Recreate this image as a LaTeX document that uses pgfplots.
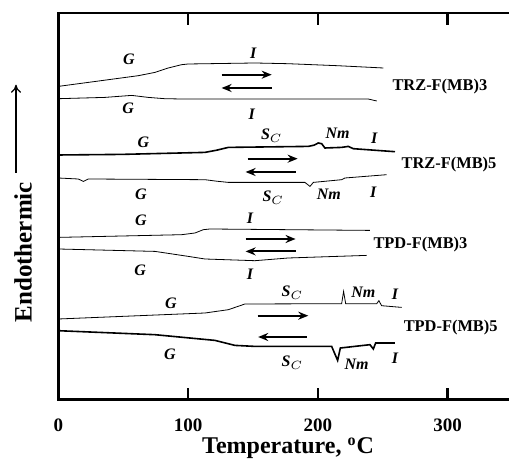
\documentclass[border=0pt]{standalone}
\usepackage{fontspec}
\setmainfont{Liberation Serif}
\usepackage{pgfplots}
\pgfplotsset{compat=1.18}
\usetikzlibrary{arrows.meta}

\newcommand{\ph}[1]{\bfseries\itshape\fontsize{8}{9}\selectfont #1}
\newcommand{\smp}{\bfseries\fontsize{8.2}{9}\selectfont}

\begin{document}
\begin{tikzpicture}
\begin{axis}[
    name=ax,
    scale only axis,
    width=227.15pt, height=193.35pt,
    xmin=0, xmax=350, ymin=0, ymax=386.7,
    axis line style={line width=1.3pt},
    xtick={0,100,200,300},
    ytick=\empty,
    xtick pos=both,
    tick align=inside,
    major tick length=6pt,
    tick style={line width=1.2pt, black},
    /pgf/number format/assume math mode=true,
    xticklabel style={font=\bfseries\fontsize{9.5}{11}\selectfont, yshift=-6pt},
    clip=false,
    cycle list={{black, solid, line width=0.8pt, no markers, line join=round}},
]
% TRZ-F(MB)3 heating
\addplot coordinates {(0,313.3)(30,318.5)(61.6,324)(74.5,327.3)(84.7,331.7)(95,335)(100,335.7)(151.5,336.7)(177,336)(215,334)(250.4,331.7)};
% TRZ-F(MB)3 cooling
\addplot coordinates {(0,301)(36,302.3)(56.5,304.3)(69.3,302.3)(82,301)(95,300.7)(151.5,300.7)(238.8,300.7)(245.3,298.7)};
% TRZ-F(MB)5 heating
\addplot coordinates {(0,244.7)(48.8,245.3)(113,247.3)(122,249.5)(131,252.3)(192.6,253.3)(197,254.5)(200.3,256.7)(202.9,256)(205.4,251.7)(218.3,252.3)(223.4,253.3)(227.3,251)(259.4,248)};
% TRZ-F(MB)5 cooling
\addplot coordinates {(0,221.7)(15.4,220.7)(19.3,218.3)(23.1,220.7)(113,220)(122,218.5)(131,217.3)(190,217.3)(193.9,213.3)(196.5,217.3)(218.3,220)(220.8,221.7)(252.9,225)};
% TPD-F(MB)3 heating
\addplot coordinates {(0,162.3)(95,165)(105.3,166.7)(111.7,170)(116.8,170.7)(240.1,169.3)};
% TPD-F(MB)3 cooling
\addplot coordinates {(0,150.7)(74.5,148.3)(100.2,143.3)(113,140.7)(151.5,139)(177.2,141.7)(237.5,144.3)};
% TPD-F(MB)5 heating
\addplot coordinates {(0,80.7)(113,86.7)(131,90)(143.8,95.7)(218.3,96)(219.8,108.3)(221.4,96)(245.3,96)(247,99)(249.1,94)(264.5,92.3)};
% TPD-F(MB)5 cooling
\addplot coordinates {(0,69)(74.5,65)(120.7,59.3)(136.1,54.3)(151.5,53.3)(210.6,53.3)(215.2,39.3)(217.3,51.7)(240.1,55)(242.7,50.7)(244.5,56.7)(259.4,56.7)};

% scan direction arrows
\addplot[black, line width=1pt, -{Stealth[length=5pt,width=4pt]}] coordinates {(125.8,325)(164.4,325)};
\addplot[black, line width=1pt, -{Stealth[length=5pt,width=4pt]}] coordinates {(164.4,311.7)(125.8,311.7)};
\addplot[black, line width=1pt, -{Stealth[length=5pt,width=4pt]}] coordinates {(145.9,241)(184.4,241)};
\addplot[black, line width=1pt, -{Stealth[length=5pt,width=4pt]}] coordinates {(182.8,227.7)(144.3,227.7)};
\addplot[black, line width=1pt, -{Stealth[length=5pt,width=4pt]}] coordinates {(144.3,160.7)(182.8,160.7)};
\addplot[black, line width=1pt, -{Stealth[length=5pt,width=4pt]}] coordinates {(182.8,148.3)(144.3,148.3)};
\addplot[black, line width=1pt, -{Stealth[length=5pt,width=4pt]}] coordinates {(153.6,84)(192.6,84)};
\addplot[black, line width=1pt, -{Stealth[length=5pt,width=4pt]}] coordinates {(191.3,62.7)(154,62.7)};

% phase labels
\node at (axis cs:54.4,340) {\ph{G}};
\node at (axis cs:150.2,346.7) {\ph{I}};
\node at (axis cs:53.9,291.7) {\ph{G}};
\node at (axis cs:149,285) {\ph{I}};
\node at (axis cs:65.5,257.3) {\ph{G}};
\node at (axis cs:164.4,264) {\ph{S$_{C}$}};
\node at (axis cs:215.2,266.7) {\ph{Nm}};
\node at (axis cs:243.4,261.7) {\ph{I}};
\node at (axis cs:63.7,205.7) {\ph{G}};
\node at (axis cs:165.6,202) {\ph{S$_{C}$}};
\node at (axis cs:208.5,205.7) {\ph{Nm}};
\node at (axis cs:242.7,207.3) {\ph{I}};
\node at (axis cs:63.7,179) {\ph{G}};
\node at (axis cs:147.7,181.7) {\ph{I}};
\node at (axis cs:63,129) {\ph{G}};
\node at (axis cs:147.7,125) {\ph{I}};
\node at (axis cs:86.8,96.7) {\ph{G}};
\node at (axis cs:180.3,107) {\ph{S$_{C}$}};
\node at (axis cs:235,107.3) {\ph{Nm}};
\node at (axis cs:259.4,105.7) {\ph{I}};
\node at (axis cs:86,45) {\ph{G}};
\node at (axis cs:180.3,37) {\ph{S$_{C}$}};
\node at (axis cs:229.8,35) {\ph{Nm}};
\node at (axis cs:259.4,41.7) {\ph{I}};

% sample names
\node at (axis cs:294,313.3) {\smp TRZ-F(MB)3};
\node at (axis cs:301,235) {\smp TRZ-F(MB)5};
\node at (axis cs:279,155) {\smp TPD-F(MB)3};
\node at (axis cs:302.3,71.7) {\smp TPD-F(MB)5};

% axis labels
\node at (axis cs:177,-48.5) {\bfseries\fontsize{12}{14}\selectfont Temperature, \textsuperscript{o}C};
\node[rotate=90] at (axis cs:-27.2,147.5) {\bfseries\fontsize{12.5}{14}\selectfont Endothermic};
\draw[line width=0.6pt, -{To[length=4pt,width=5pt]}] (axis cs:-32.6,227) -- (axis cs:-32.6,315);
\end{axis}
\pgfresetboundingbox
\path[use as bounding box] ([xshift=-29.15pt,yshift=-29.5pt]ax.south west) rectangle ([xshift=225.35pt,yshift=199.85pt]ax.south west);
\end{tikzpicture}
\end{document}
